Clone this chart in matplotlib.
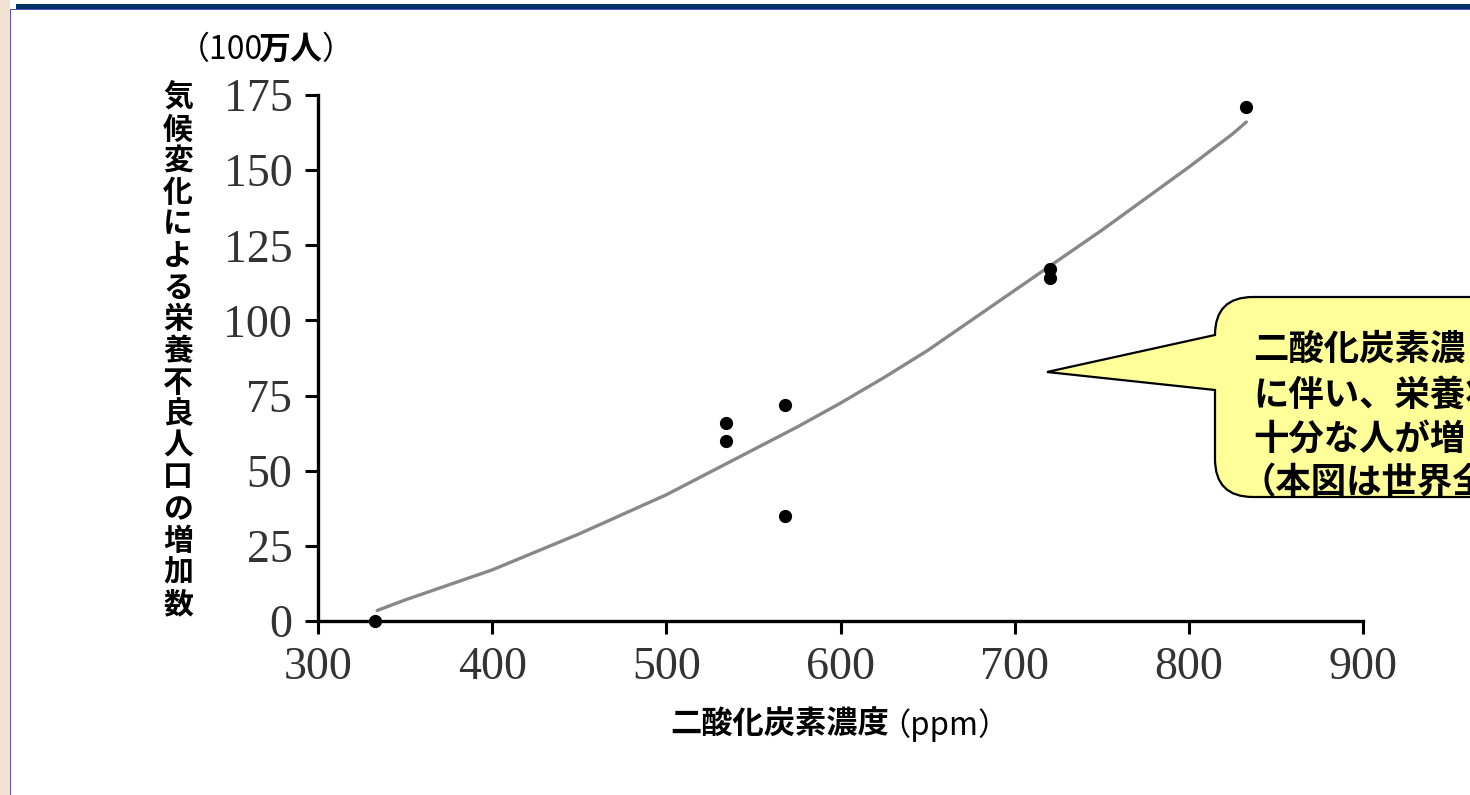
import matplotlib
matplotlib.use("Agg")
import matplotlib.pyplot as plt
from matplotlib.patches import Rectangle, PathPatch
from matplotlib.path import Path

# ---- data ----
co2_points = [333, 534, 534, 568, 568, 720, 720, 833]
pop_points = [0, 60, 66, 72, 35, 114, 117, 171]

curve_x = [334, 350, 375, 400, 425, 450, 475, 500, 525, 550, 575, 600, 625,
           650, 675, 700, 725, 750, 775, 800, 825, 833]
curve_y = [3.5, 7, 12, 17, 23, 29, 35.5, 42, 49.5, 57, 64.5, 72.5, 81,
           90, 100, 110, 120, 130, 140.5, 151, 162, 166]

x_ticks = [300, 400, 500, 600, 700, 800, 900]
y_ticks = [0, 25, 50, 75, 100, 125, 150, 175]

ylabel_text = "気候変化による栄養不良人口の増加数"
xlabel_bold = "二酸化炭素濃度"
xlabel_reg = "（ppm）"
unit_parts = ["（100", "万人", "）"]
callout_lines = ["二酸化炭素濃", "に伴い、栄養状", "十分な人が増", "（本図は世界全"]

W, H = 1470, 795
fig = plt.figure(figsize=(W / 100, H / 100), dpi=100)
fig.patch.set_facecolor("white")

def fx(px):
    return px / W

def fy(py):
    return 1 - py / H

JP = ["Noto Sans CJK JP", "DejaVu Sans"]

# ---- frame decoration ----
fig.add_artist(Rectangle((0, 0), fx(10), 1, transform=fig.transFigure,
                         facecolor="#F1E2D1", edgecolor="none", zorder=0))
fig.add_artist(Rectangle((fx(10), 0), fx(1.5), fy(9), transform=fig.transFigure,
                         facecolor="#5A55C0", edgecolor="none", zorder=1))
fig.add_artist(Rectangle((fx(16), fy(8.5)), 1, fx(9), transform=fig.transFigure,
                         facecolor="#003366", edgecolor="none", zorder=1))
fig.add_artist(Rectangle((fx(10), fy(10)), 1, 1.2 / H, transform=fig.transFigure,
                         facecolor="#5A55C0", edgecolor="none", zorder=1))

# ---- axes ----
ax = fig.add_axes([fx(318), fy(621), fx(1363) - fx(318), fy(95) - fy(621)])
ax.set_facecolor("white")
ax.set_xlim(300, 900)
ax.set_ylim(0, 175)
for s in ["top", "right"]:
    ax.spines[s].set_visible(False)
for s in ["left", "bottom"]:
    ax.spines[s].set_linewidth(2.4)
    ax.spines[s].set_color("black")
ax.set_xticks(x_ticks)
ax.set_yticks(y_ticks)
ax.tick_params(axis="both", direction="out", length=9.5, width=2.2, color="black",
               labelsize=33, labelcolor="#333333", pad=9)
for lab in ax.get_xticklabels() + ax.get_yticklabels():
    lab.set_fontfamily("Liberation Serif")

ax.plot(curve_x, curve_y, color="#888888", lw=2.4, zorder=2, clip_on=False,
        solid_joinstyle="round", solid_capstyle="round")
ax.plot(co2_points, pop_points, linestyle="none", marker="o", ms=8.5,
        color="black", zorder=3, clip_on=False)

# ---- labels ----
n = len(ylabel_text)
y0, y1 = 98, 604
for i, ch in enumerate(ylabel_text):
    py = y0 + (y1 - y0) * i / (n - 1)
    fig.text(fx(178), fy(py), ch, ha="center", va="center", fontsize=21.5,
             fontweight="bold", family=JP)

fig.text(fx(178), fy(50), unit_parts[0], ha="left", va="center", fontsize=23,
         family=JP)
fig.text(fx(258), fy(50), unit_parts[1], ha="left", va="center", fontsize=23,
         fontweight="bold", family=JP)
fig.text(fx(322), fy(50), unit_parts[2], ha="left", va="center", fontsize=23,
         family=JP)

fig.text(fx(670), fy(725), xlabel_bold, ha="left", va="center", fontsize=22.5,
         fontweight="bold", family=JP)
fig.text(fx(879), fy(725), xlabel_reg, ha="left", va="center", fontsize=22.5,
         family=JP)

# ---- callout ----
L, T, R, B, r = 1215, 297, 1700, 497, 38
tipx, tipy = 1047, 372
ba, bb = 335, 390
verts = [
    (R, T), (L + r, T), (L, T), (L, T + r),
    (L, ba), (tipx, tipy), (L, bb),
    (L, B - r), (L, B), (L + r, B), (R, B), (R, T),
]
codes = [Path.MOVETO, Path.LINETO, Path.CURVE3, Path.CURVE3,
         Path.LINETO, Path.LINETO, Path.LINETO,
         Path.LINETO, Path.CURVE3, Path.CURVE3, Path.LINETO, Path.CLOSEPOLY]
verts_fig = [(fx(x), fy(y)) for x, y in verts]
fig.add_artist(PathPatch(Path(verts_fig, codes), transform=fig.transFigure,
                         facecolor="#FFFF99", edgecolor="black", lw=1.6, zorder=5))
line_y = [349, 395, 439, 483]
line_x = [1253, 1253, 1253, 1240]
for txt, px, py in zip(callout_lines, line_x, line_y):
    fig.text(fx(px), fy(py), txt, ha="left", va="center", fontsize=25.5,
             fontweight="bold", family=JP, zorder=6)

fig.savefig("out.png", dpi=100)
